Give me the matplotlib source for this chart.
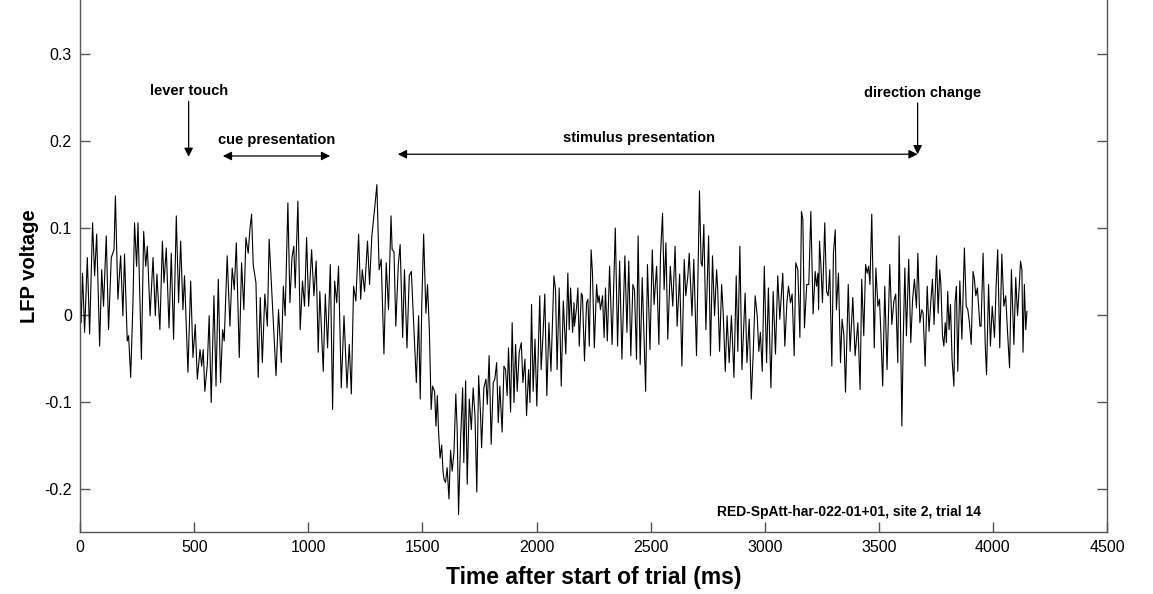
import matplotlib
matplotlib.use("Agg")
import matplotlib.pyplot as plt
import numpy as np

plt.rcParams['font.family'] = ['Liberation Sans', 'DejaVu Sans']

# ---- data (time in ms, LFP voltage) ----
t_a = [0, 4, 10, 19, 31, 41, 54, 63, 72, 85, 94, 102, 114, 124, 136, 148, 154, 165, 177, 187,
       194, 206, 212, 221, 231, 238, 247, 253, 268, 278, 287, 294, 306, 319, 329, 336, 349, 360,
       367, 377, 389, 399, 409, 421, 431, 440, 450, 457, 472, 484, 494, 504, 513, 525]
v_a = [0.022, -0.009, 0.048, -0.020, 0.066, -0.022, 0.106, 0.045, 0.093, -0.036, 0.052, 0.010,
       0.091, -0.017, 0.066, 0.075, 0.137, 0.018, 0.068, -0.001, 0.070, -0.030, -0.024, -0.072,
       0.014, 0.106, 0.056, 0.106, -0.051, 0.096, 0.056, 0.079, -0.001, 0.066, -0.001, 0.047,
       -0.017, 0.085, 0.037, 0.077, -0.015, 0.071, -0.028, 0.114, 0.014, 0.085, 0.006, 0.045,
       -0.066, 0.039, -0.049, -0.011, -0.074, -0.040]

t_b = [532, 539, 546, 557, 565, 574, 586, 595, 605, 615, 624, 631, 644, 656, 666, 675, 684, 697,
       707, 717, 726, 736, 744, 751, 758, 770, 780, 789, 798, 809, 820, 828, 841, 858, 869, 881,
       890, 898, 910, 919, 928, 936, 942, 954, 964, 974, 983, 992, 1001, 1014, 1024, 1034, 1043,
       1050, 1065, 1074, 1084]
v_b = [-0.059, -0.040, -0.088, -0.057, -0.001, -0.101, 0.022, -0.082, 0.041, -0.078, -0.017,
       -0.030, 0.068, -0.013, 0.054, 0.029, 0.083, -0.049, 0.060, 0.006, 0.089, 0.071, 0.100,
       0.116, 0.058, 0.037, -0.072, 0.020, -0.055, 0.024, -0.013, 0.087, 0.018, -0.070, 0.006,
       -0.055, 0.033, -0.001, 0.129, 0.014, 0.066, 0.079, 0.031, 0.131, -0.017, 0.039, 0.010,
       0.089, 0.010, 0.075, 0.022, 0.062, -0.043, 0.027, -0.065, 0.024, -0.038]

t_c = [1096, 1106, 1115, 1124, 1132, 1144, 1156, 1169, 1179, 1188, 1198, 1208, 1220, 1229, 1236,
       1246, 1259, 1268, 1278, 1289, 1300, 1310, 1319, 1331, 1341, 1351, 1362, 1367, 1375, 1383,
       1394, 1402, 1413, 1421, 1432, 1442, 1451, 1462, 1473, 1483, 1490, 1497, 1505, 1515, 1522,
       1530, 1538, 1544, 1553, 1559, 1565, 1570, 1577, 1584, 1590]
v_c = [0.058, -0.109, 0.039, 0.014, 0.056, -0.084, -0.001, -0.084, -0.034, -0.091, 0.033, 0.016,
       0.093, 0.018, 0.052, 0.027, 0.085, 0.035, 0.091, 0.119, 0.150, 0.052, 0.064, -0.045, 0.060,
       0.006, 0.114, 0.075, 0.073, -0.013, 0.058, 0.081, -0.026, 0.052, -0.038, 0.045, 0.050,
       -0.013, -0.078, -0.001, -0.097, 0.014, 0.093, 0.002, 0.035, -0.017, -0.109, -0.082, -0.088,
       -0.128, -0.093, -0.132, -0.165, -0.150, -0.180]

t_d = [1594, 1601, 1608, 1616, 1623, 1630, 1638, 1646, 1652, 1658, 1667, 1676, 1681, 1689, 1696,
       1705, 1714, 1722, 1730, 1738, 1746, 1754, 1759, 1769, 1778, 1784, 1792, 1801, 1810, 1817,
       1825, 1832, 1839, 1849, 1857, 1864, 1871, 1877, 1886, 1893, 1901, 1908, 1915, 1924, 1933,
       1940, 1949, 1956, 1965, 1971, 1978, 1985, 1993, 2001, 2014, 2020, 2028, 2036, 2045, 2054,
       2063, 2076, 2083, 2090, 2099, 2108, 2117, 2128, 2137, 2143, 2149, 2158, 2164]
v_d = [-0.189, -0.193, -0.176, -0.212, -0.156, -0.180, -0.158, -0.091, -0.132, -0.230, -0.143,
       -0.084, -0.170, -0.076, -0.195, -0.097, -0.132, -0.084, -0.116, -0.204, -0.070, -0.112,
       -0.153, -0.084, -0.074, -0.103, -0.047, -0.149, -0.078, -0.074, -0.055, -0.124, -0.082,
       -0.135, -0.059, -0.063, -0.093, -0.038, -0.112, -0.009, -0.101, -0.034, -0.088, -0.043,
       -0.032, -0.078, -0.051, -0.116, -0.063, -0.101, 0.012, -0.088, -0.028, -0.105, 0.022,
       -0.063, -0.024, 0.024, -0.093, -0.009, -0.065, 0.045, 0.029, -0.063, 0.031, -0.082, 0.016,
       -0.045, 0.048, -0.017, 0.031, -0.020, 0.014]

t_e = [2166, 2175, 2181, 2187, 2196, 2201, 2210, 2219, 2225, 2231, 2239, 2245, 2253, 2263, 2269,
       2274, 2280, 2289, 2296, 2302, 2310, 2320, 2331, 2345, 2355, 2364, 2374, 2387, 2396, 2404,
       2413, 2422, 2429, 2438, 2445, 2454, 2463, 2478, 2486, 2497, 2507, 2515, 2526, 2536, 2543,
       2552, 2559, 2567, 2575, 2586, 2597, 2607, 2616, 2627, 2637, 2647, 2654, 2663, 2669, 2681,
       2689]
v_e = [-0.013, 0.008, 0.031, -0.036, 0.025, 0.022, -0.053, 0.014, 0.018, -0.036, 0.075, 0.048,
       -0.038, 0.035, 0.014, 0.022, 0.006, 0.022, -0.026, 0.031, -0.030, 0.056, -0.034, 0.100,
       -0.036, 0.062, -0.051, 0.068, -0.020, 0.062, -0.047, 0.035, 0.029, -0.051, 0.091, -0.057,
       0.043, -0.088, 0.058, -0.040, 0.075, 0.012, 0.056, -0.034, 0.068, 0.117, 0.029, 0.083,
       -0.028, 0.056, 0.010, 0.079, -0.013, 0.047, -0.059, 0.064, 0.022, 0.045, 0.071, -0.001,
       0.064]

t_f = [2701, 2714, 2721, 2726, 2733, 2742, 2754, 2762, 2771, 2780, 2789, 2794, 2802, 2811, 2818,
       2827, 2835, 2844, 2854, 2865, 2875, 2882, 2891, 2900, 2907, 2914, 2922, 2932, 2941, 2949,
       2958, 2967, 2974, 2981, 2989, 2998, 3008, 3016, 3027, 3037, 3047, 3057, 3066, 3079, 3088,
       3097, 3104, 3113, 3120, 3129, 3136, 3145, 3154, 3161, 3167, 3174, 3184, 3193, 3202, 3212,
       3221, 3227, 3233]
v_f = [-0.047, 0.143, 0.060, 0.056, 0.104, -0.017, 0.091, -0.047, 0.068, -0.001, 0.052, 0.029,
       -0.042, 0.035, 0.002, -0.065, -0.001, -0.055, -0.001, -0.072, 0.045, -0.042, 0.079, -0.063,
       -0.020, 0.025, -0.055, -0.005, -0.097, -0.047, 0.022, -0.001, -0.042, -0.020, -0.065, 0.056,
       -0.055, 0.031, -0.084, 0.027, -0.045, 0.045, -0.005, 0.048, -0.036, 0.014, 0.033, 0.014,
       0.024, -0.047, 0.060, 0.052, -0.026, 0.119, 0.110, -0.015, 0.035, 0.035, 0.119, 0.001,
       0.050, 0.033, 0.048]

t_g = [3236, 3240, 3246, 3253, 3263, 3271, 3278, 3285, 3294, 3301, 3309, 3314, 3323, 3332, 3339,
       3347, 3354, 3366, 3374, 3386, 3396, 3408, 3418, 3425, 3434, 3442, 3449, 3455, 3461, 3469,
       3480, 3487, 3496, 3503, 3509, 3517, 3526, 3536, 3548, 3557, 3566, 3574, 3583, 3589, 3595,
       3601, 3607, 3614, 3621, 3631, 3640, 3648, 3656, 3665, 3671, 3680, 3688, 3694, 3703, 3712,
       3720, 3728, 3735, 3742, 3753, 3760, 3767]
v_g = [0.006, 0.085, 0.058, 0.014, 0.106, 0.027, 0.022, 0.052, -0.059, 0.071, 0.098, 0.006, 0.048,
       -0.055, -0.005, -0.024, -0.089, 0.035, -0.042, 0.020, -0.047, -0.009, -0.086, 0.041, -0.024,
       0.058, 0.048, 0.056, 0.035, 0.116, -0.038, 0.054, 0.010, 0.018, -0.022, -0.082, 0.033,
       -0.063, 0.058, -0.011, 0.016, 0.024, -0.055, 0.091, -0.013, -0.128, -0.028, 0.054, -0.024,
       0.064, -0.032, 0.018, 0.041, 0.008, 0.071, -0.009, 0.006, 0.002, -0.059, 0.033, -0.019,
       0.016, 0.041, -0.011, 0.068, 0.002, 0.052]

t_h = [3772, 3779, 3785, 3791, 3796, 3802, 3808, 3814, 3821, 3829, 3834, 3840, 3846, 3855, 3864,
       3875, 3883, 3890, 3897, 3905, 3913, 3919, 3925, 3932, 3943, 3948, 3957, 3966, 3972, 3981,
       3989, 3997, 4007, 4014, 4021, 4030, 4039, 4048, 4056, 4065, 4073, 4081, 4092, 4100, 4108,
       4115, 4121, 4127, 4132, 4138, 4144, 4149]
v_h = [0.035, -0.024, -0.036, -0.009, -0.032, 0.027, -0.017, 0.012, -0.051, -0.082, 0.014, 0.033,
       -0.065, 0.039, -0.028, 0.077, 0.010, 0.006, -0.009, -0.034, 0.050, 0.041, 0.022, 0.031,
       -0.013, -0.013, 0.071, -0.032, -0.069, 0.035, -0.036, 0.010, -0.026, 0.033, 0.075, -0.038,
       0.070, 0.010, 0.022, -0.024, -0.061, 0.052, -0.034, 0.043, -0.001, 0.031, 0.062, 0.052,
       -0.043, 0.035, -0.017, 0.004]

time_ms = t_a + t_b + t_c + t_d + t_e + t_f + t_g + t_h
lfp = v_a + v_b + v_c + v_d + v_e + v_f + v_g + v_h

x_ticks = [0, 500, 1000, 1500, 2000, 2500, 3000, 3500, 4000, 4500]
y_ticks = [-0.2, -0.1, 0, 0.1, 0.2, 0.3]
y_tick_labels = ["-0.2", "-0.1", "0", "0.1", "0.2", "0.3"]

# event annotations (ms)
lever_touch_ms = 475
cue_start_ms, cue_end_ms = 625, 1095
stim_start_ms, stim_end_ms = 1392, 3670
direction_change_ms = 3670

# ---- figure ----
fig = plt.figure(figsize=(11.53, 5.94), dpi=100)
ax = fig.add_axes([0.0696, 0.1044, 0.8905, 0.8956])

ax.plot(time_ms, lfp, color='black', linewidth=0.8)

ax.set_xlim(0, 4500)
ax.set_ylim(-0.25, 0.3626)
ax.set_xticks(x_ticks)
ax.set_xticklabels([str(v) for v in x_ticks])
ax.set_yticks(y_ticks)
ax.set_yticklabels(y_tick_labels)

ax.spines['top'].set_visible(False)
for s in ['left', 'right', 'bottom']:
    ax.spines[s].set_color('#555555')
    ax.spines[s].set_linewidth(1.0)
ax.tick_params(direction='in', length=7, width=1.0, color='#555555',
               labelsize=11.5, labelcolor='black', top=False, right=True, pad=6)

ax.set_xlabel('Time after start of trial (ms)', fontsize=16.5, fontweight='bold', labelpad=8)
ax.set_ylabel('LFP voltage', fontsize=14.5, fontweight='bold', labelpad=4)

ann_font = dict(fontsize=10.5, fontweight='bold', ha='center', va='center')
head = dict(color='black', lw=0.9, shrinkA=0, shrinkB=0, mutation_scale=13)

ax.text(lever_touch_ms, 0.258, 'lever touch', **ann_font)
ax.annotate('', xy=(lever_touch_ms, 0.182), xytext=(lever_touch_ms, 0.246),
            arrowprops=dict(arrowstyle='-|>', **head))

ax.text((cue_start_ms + cue_end_ms) / 2, 0.201, 'cue presentation', **ann_font)
ax.annotate('', xy=(cue_end_ms, 0.183), xytext=(cue_start_ms, 0.183),
            arrowprops=dict(arrowstyle='<|-|>', **head))

ax.text(2450, 0.204, 'stimulus presentation', **ann_font)
ax.annotate('', xy=(stim_end_ms, 0.185), xytext=(stim_start_ms, 0.185),
            arrowprops=dict(arrowstyle='<|-|>', **head))

ax.text(direction_change_ms + 20, 0.256, 'direction change', **ann_font)
ax.annotate('', xy=(direction_change_ms, 0.185), xytext=(direction_change_ms, 0.244),
            arrowprops=dict(arrowstyle='-|>', **head))

ax.text(3370, -0.227, 'RED-SpAtt-har-022-01+01, site 2, trial 14',
        fontsize=10, fontweight='bold', ha='center', va='center')

fig.savefig('out.png', dpi=100)
